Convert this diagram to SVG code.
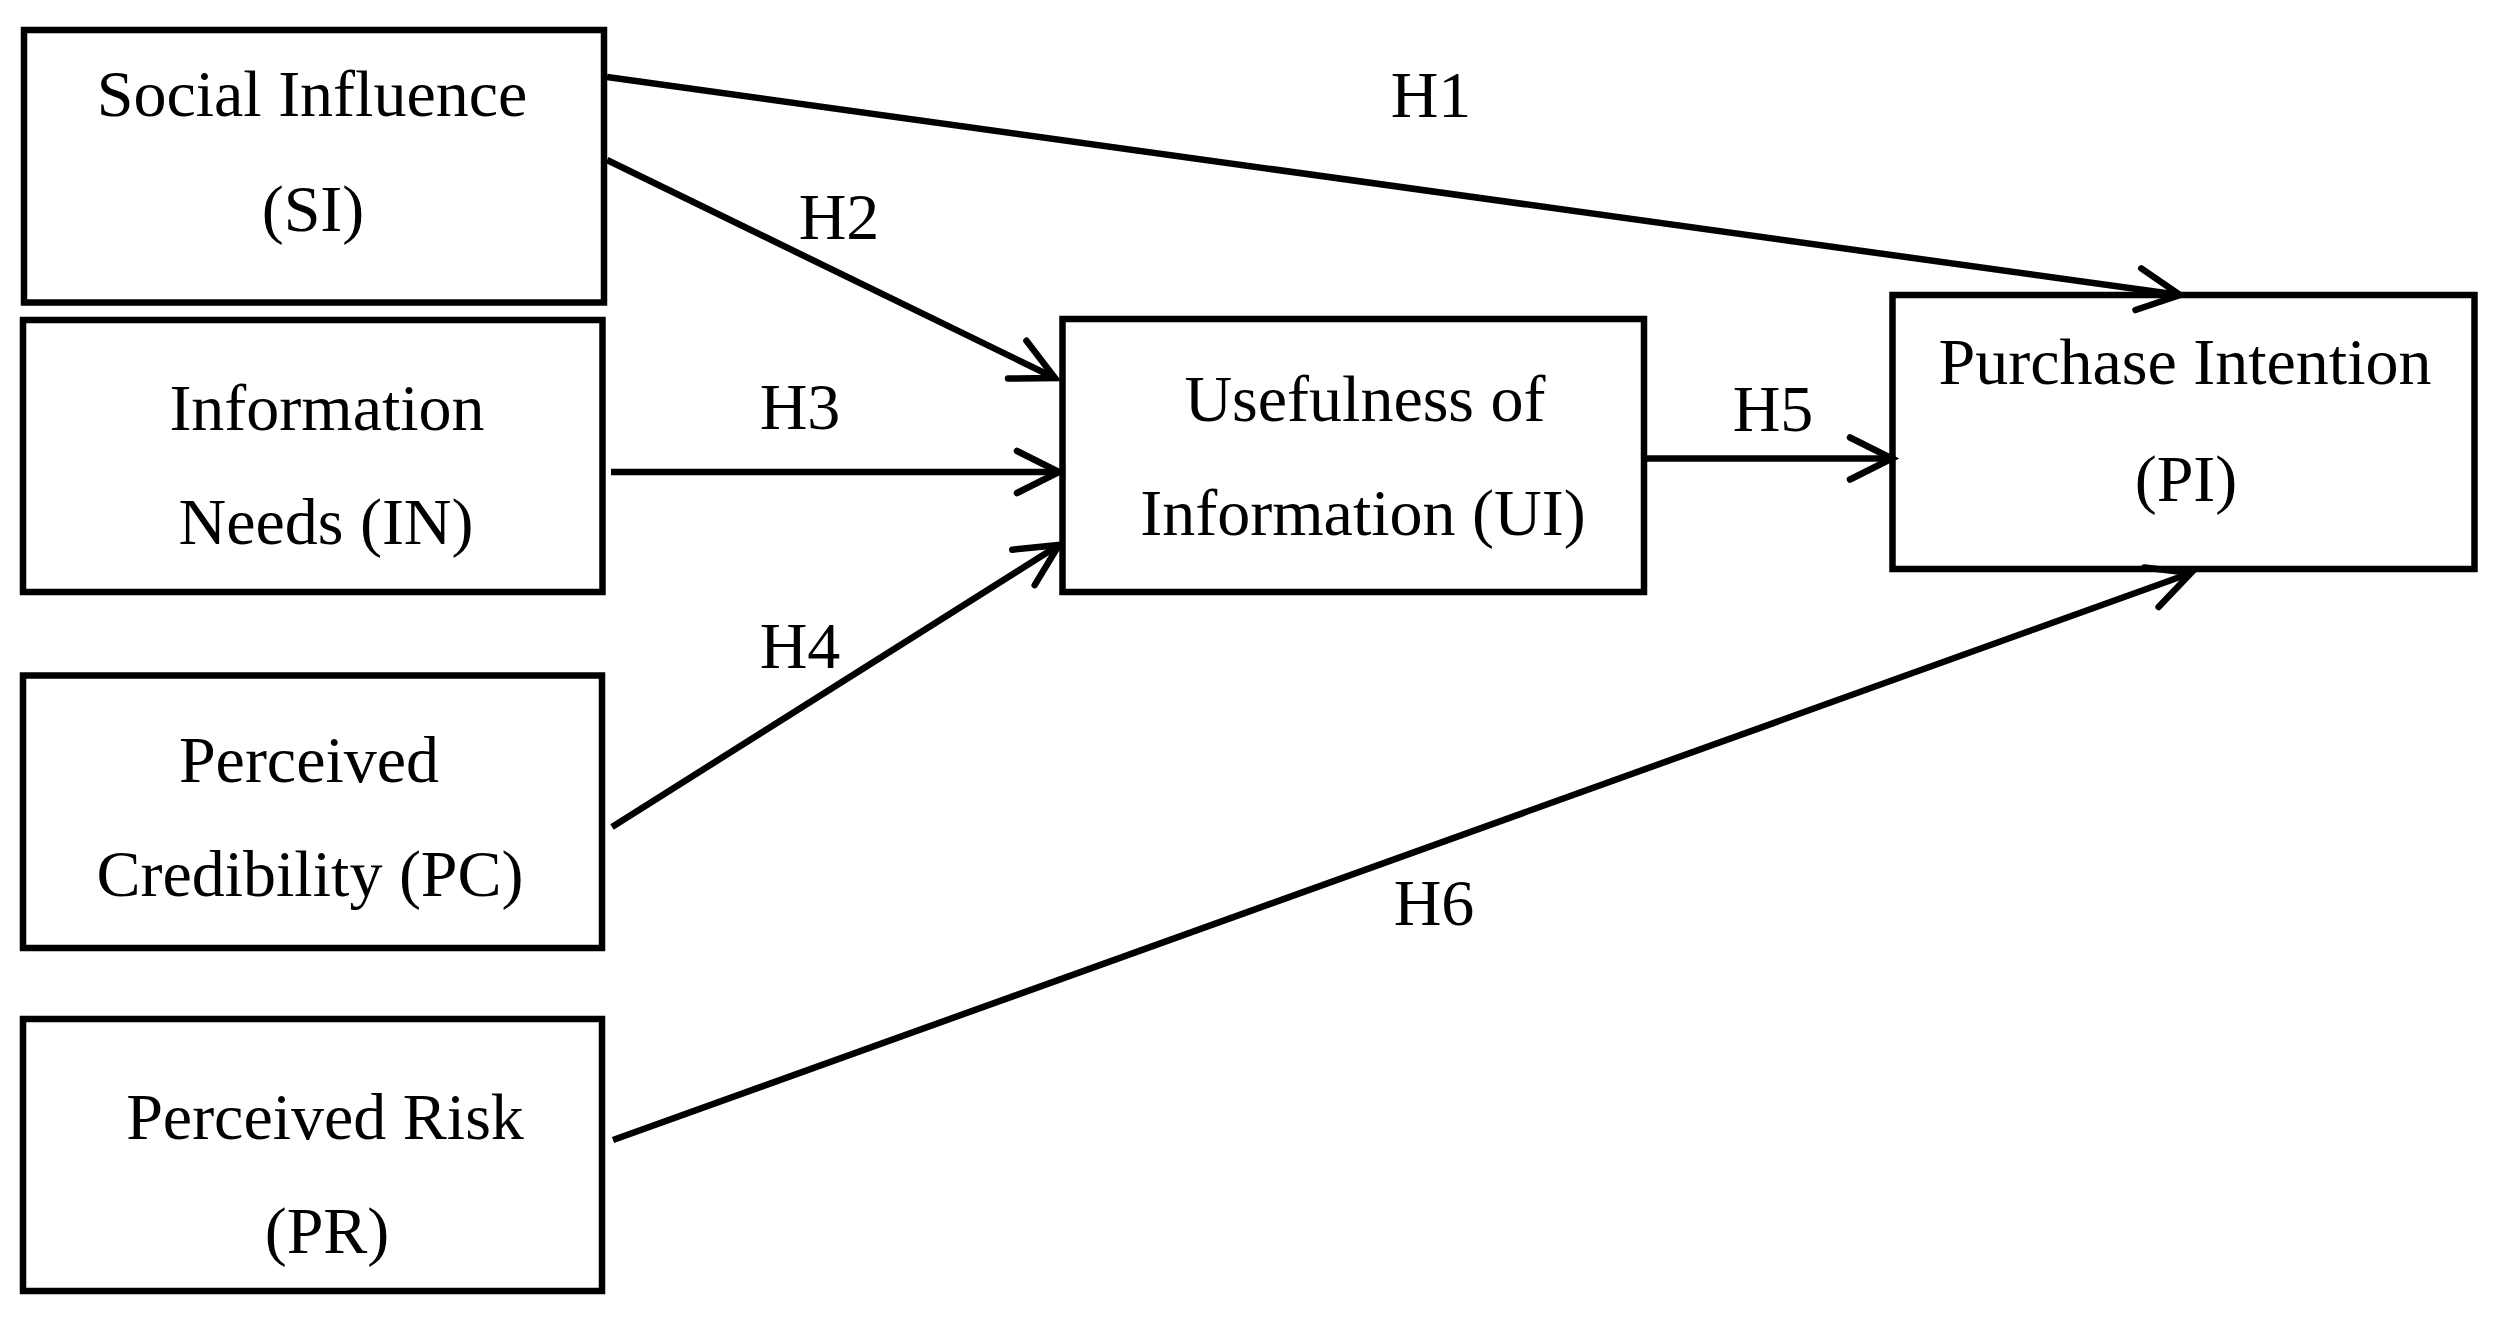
<svg xmlns="http://www.w3.org/2000/svg" width="2503" height="1317" viewBox="0 0 2503 1317">
<style>
.box{fill:none;stroke:#000;stroke-width:6.5}
.t{font-family:"Liberation Serif","Times New Roman",serif;font-size:66px;fill:#000;text-anchor:middle}
.c{fill:none;stroke:#000;stroke-width:6.5;stroke-linecap:butt}
</style>
<defs>
<marker id="arr" markerUnits="userSpaceOnUse" viewBox="-50 -30 60 60" markerWidth="60" markerHeight="60" refX="0" refY="0" orient="auto" overflow="visible">
<path d="M-42,-21 L0,0 L-42,21" fill="none" stroke="#000" stroke-width="6.5" stroke-linecap="round" stroke-linejoin="miter"/>
</marker>
</defs>
<rect width="2503" height="1317" fill="#fff"/>
<g id="SI">
<rect class="box" x="24" y="30" width="580" height="272.5"/>
<text class="t" x="312" y="116">Social Influence</text>
<text class="t" x="313" y="231">(SI)</text>
</g>
<g id="IN">
<rect class="box" x="23" y="320" width="579.5" height="272"/>
<text class="t" x="327" y="430">Information</text>
<text class="t" x="326" y="544">Needs (IN)</text>
</g>
<g id="PC">
<rect class="box" x="23" y="675.5" width="579" height="272.5"/>
<text class="t" x="309" y="782">Perceived</text>
<text class="t" x="310" y="896">Credibility (PC)</text>
</g>
<g id="PR">
<rect class="box" x="23" y="1019" width="579" height="272"/>
<text class="t" x="325" y="1139">Perceived Risk</text>
<text class="t" x="327" y="1253">(PR)</text>
</g>
<g id="UI">
<rect class="box" x="1062.5" y="319" width="581.5" height="273"/>
<text class="t" x="1365" y="421">Usefulness of</text>
<text class="t" x="1363" y="535">Information (UI)</text>
</g>
<g id="PI">
<rect class="box" x="1892.5" y="295" width="582" height="274"/>
<text class="t" x="2185" y="384">Purchase Intention</text>
<text class="t" x="2186" y="501">(PI)</text>
</g>
<g id="connectors">
<line class="c" x1="607" y1="77" x2="2180" y2="295" marker-end="url(#arr)"/>
<line class="c" x1="607" y1="160" x2="1055" y2="378" marker-end="url(#arr)"/>
<line class="c" x1="611" y1="472" x2="1059" y2="472" marker-end="url(#arr)"/>
<line class="c" x1="612" y1="827" x2="1059" y2="545" marker-end="url(#arr)"/>
<line class="c" x1="1644" y1="458.5" x2="1892" y2="458.5" marker-end="url(#arr)"/>
<line class="c" x1="613" y1="1140" x2="2191" y2="573" marker-end="url(#arr)"/>
<text class="t" x="1431" y="117">H1</text>
<text class="t" x="839" y="239">H2</text>
<text class="t" x="800" y="429">H3</text>
<text class="t" x="800" y="668">H4</text>
<text class="t" x="1773" y="431">H5</text>
<text class="t" x="1434" y="925">H6</text>
</g>
</svg>
